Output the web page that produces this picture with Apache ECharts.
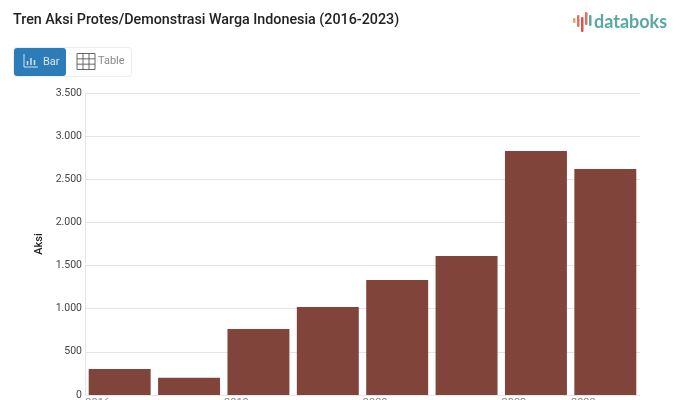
<!DOCTYPE html>
<html><head><meta charset="utf-8">
<style>html,body{margin:0;padding:0;background:#fff}#c{width:681px;height:400px}</style>
<script src="https://cdn.jsdelivr.net/npm/echarts@6/dist/echarts.min.js"></script>
</head><body><div id="c"></div>
<script>
const categories = ['2016','2017','2018','2019','2020','2021','2022','2023'];
const values = [300,200,765,1020,1333,1610,2827,2620];
const yTickLabels = ['0','500','1.000','1.500','2.000','2.500','3.000','3.500'];
const shownCategories = ['2016','2018','2020','2022','2023'];
const titleText = 'Tren Aksi Protes/Demonstrasi Warga Indonesia (2016-2023)';
const barColor = '#80443a';
const font = 'Roboto';

const rect = (x,y,w,h,fill,r) => ({type:'rect',shape:{x,y,width:w,height:h,r:r||0},style:{fill},silent:true});
const line = (x1,y1,x2,y2,stroke,lw) => ({type:'line',shape:{x1,y1,x2,y2},style:{stroke,lineWidth:lw||1},silent:true});

const tableIcon = [];
for (let i=0;i<4;i++) tableIcon.push(line(77+i*6,53.5,77+i*6,69.5,'#666',1));
for (let i=0;i<4;i++) tableIcon.push(line(77,53.5+i*5.33,95,53.5+i*5.33,'#666',1));

const logoBars = [
  [573,18,2.5,5,'#e8a26a'],[577,15,2.5,12,'#e0735f'],[581,17,2.5,15,'#d9534f'],
  [585,12,2.5,13,'#e0735f'],[589,15,2.5,11,'#5aa9a0']
].map(b => rect(b[0],b[1],b[2],b[3],b[4],1));

const chart = echarts.init(document.getElementById('c'),null,{renderer:'canvas'});
chart.setOption({
  animation:false,
  backgroundColor:'#fff',
  title:{text:titleText,left:13,top:13,padding:0,
    textStyle:{fontFamily:font,fontSize:14.3,fontWeight:500,color:'#222'}},
  grid:{left:85,right:41,top:93,bottom:5,containLabel:false,outerBoundsMode:'none'},
  xAxis:{type:'category',data:categories,
    axisLine:{show:true,lineStyle:{color:'#e6e6e6'}},axisTick:{show:false},
    axisLabel:{color:'#888',fontFamily:font,fontSize:11,margin:3,
      padding:[0,44,0,0],
      interval:(i,v)=>shownCategories.includes(v)}},
  yAxis:{type:'value',min:0,max:3500,interval:500,
    name:'Aksi',nameLocation:'middle',nameGap:35,
    nameTextStyle:{color:'#222',fontFamily:font,fontSize:11,fontWeight:500},
    axisLine:{show:true,lineStyle:{color:'#e6e6e6'}},axisTick:{show:false},
    axisLabel:{color:'#444',fontFamily:font,fontSize:10.5,margin:3,
      formatter:(v)=>yTickLabels[v/500]},
    splitLine:{lineStyle:{color:'#e4e4e4'}}},
  series:[{type:'bar',data:values,barCategoryGap:'10.7%',
    itemStyle:{color:barColor}}],
  graphic:[
    {type:'rect',shape:{x:13.5,y:47.5,width:118,height:29,r:3},style:{fill:'#fff',stroke:'#ececec'},silent:true},
    rect(14,48,52,28,'#2b7cb8',3),
    line(24,54,24,67,'#cfe3f2',1),line(24,67,38,67,'#cfe3f2',1),
    line(27.5,61,27.5,65,'#cfe3f2',1.5),line(31,58,31,65,'#cfe3f2',1.5),line(34.5,60,34.5,65,'#cfe3f2',1.5),
    {type:'text',style:{x:43,y:62,text:'Bar',fill:'#d9e8f4',font:'11px '+font,textVerticalAlign:'middle'},silent:true},
    ...tableIcon,
    {type:'text',style:{x:98,y:61,text:'Table',fill:'#888',font:'11px '+font,textVerticalAlign:'middle'},silent:true},
    ...logoBars,
    {type:'text',style:{x:594,y:22,text:'databoks',fill:'#5aa9a0',font:'700 18px Lato',textVerticalAlign:'middle'},silent:true}
  ]
});
</script></body></html>
